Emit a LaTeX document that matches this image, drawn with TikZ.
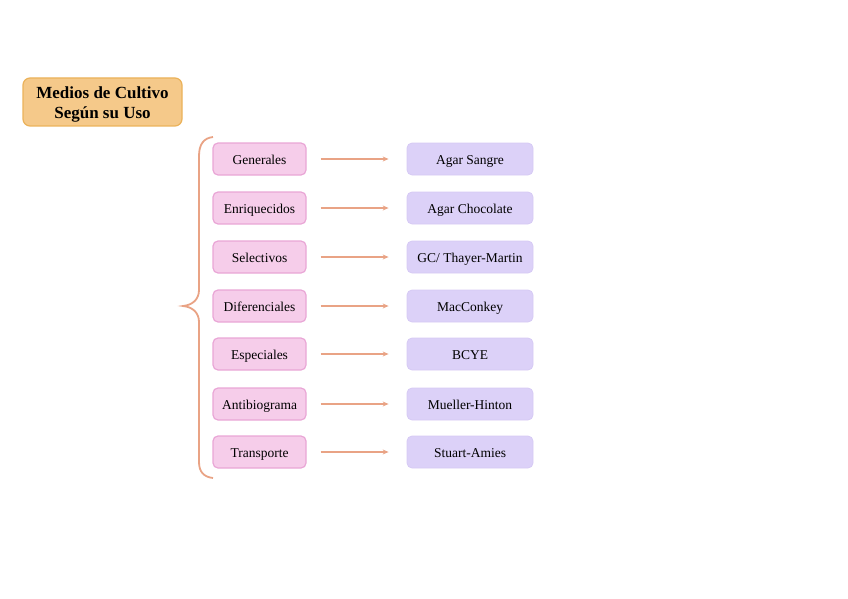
\documentclass[tikz,border=0pt]{standalone}
\usepackage{fontspec}
\setmainfont{Liberation Serif}
\usetikzlibrary{arrows.meta}
\definecolor{titlefill}{HTML}{F5C98A}
\definecolor{titledraw}{HTML}{EBB25A}
\definecolor{pinkfill}{HTML}{F6CDEA}
\definecolor{pinkdraw}{HTML}{E9A6D6}
\definecolor{lilacfill}{HTML}{DCD1F8}
\definecolor{lilacdraw}{HTML}{D6CAF4}
\definecolor{salmon}{HTML}{E9A385}
\begin{document}
\begin{tikzpicture}[x=1pt,y=-1pt,
  titlebox/.style={draw=titledraw,fill=titlefill,rounded corners=7pt,line width=1.2pt,minimum width=159pt,minimum height=48pt,font=\fontsize{17}{21}\selectfont\bfseries,inner sep=0pt},
  catbox/.style={draw=pinkdraw,fill=pinkfill,rounded corners=5pt,line width=1.2pt,minimum width=93pt,minimum height=32pt,font=\fontsize{13.5}{15}\selectfont,inner sep=0pt,text height=10.5pt,text depth=0pt},
  exbox/.style={draw=lilacdraw,fill=lilacfill,rounded corners=5pt,line width=0.8pt,minimum width=126pt,minimum height=32pt,font=\fontsize{13.5}{15}\selectfont,inner sep=0pt,text height=10.5pt,text depth=0pt},
  conn/.style={draw=salmon,line width=1.6pt,-{Stealth[length=6pt,width=5pt]}},
  bracket/.style={draw=salmon,line width=1.8pt}
]
\useasboundingbox (0,0) rectangle (848,599);
\node[titlebox] (title) at (102.5,102) {\raisebox{-2.5pt}[\height][\depth]{\begin{tabular}{@{}c@{}}Medios de Cultivo\\[-0.5pt]Según su Uso\end{tabular}}};
\foreach \y/\a/\b/\n in {159/Generales/{Agar Sangre}/1, 208/Enriquecidos/{Agar Chocolate}/2, 257/Selectivos/{GC/ Thayer-Martin}/3, 306/Diferenciales/MacConkey/4, 354/Especiales/BCYE/5, 404/Antibiograma/{Mueller-Hinton}/6, 452/Transporte/{Stuart-Amies}/7}{
  \node[catbox] (c\n) at (259.5,\y) {\a};
  \node[exbox] (e\n) at (470,\y) {\b};
  \coordinate (s\n) at ([xshift=14pt]c\n.east);
  \coordinate (t\n) at ([xshift=-18pt]e\n.west);
  \draw[conn] (s\n) -- (t\n);
}
\coordinate (btop) at (213,137);
\coordinate (btip) at (183,306);
\coordinate (bbot) at (213,478);
\draw[bracket] (btop) .. controls (204,138) and (199,144) .. (199,156) -- (199,290)
  .. controls (199,299) and (193,305) .. (btip)
  .. controls (193,307) and (199,313) .. (199,322) -- (199,462)
  .. controls (199,472) and (204,477) .. (bbot);
\end{tikzpicture}
\end{document}
